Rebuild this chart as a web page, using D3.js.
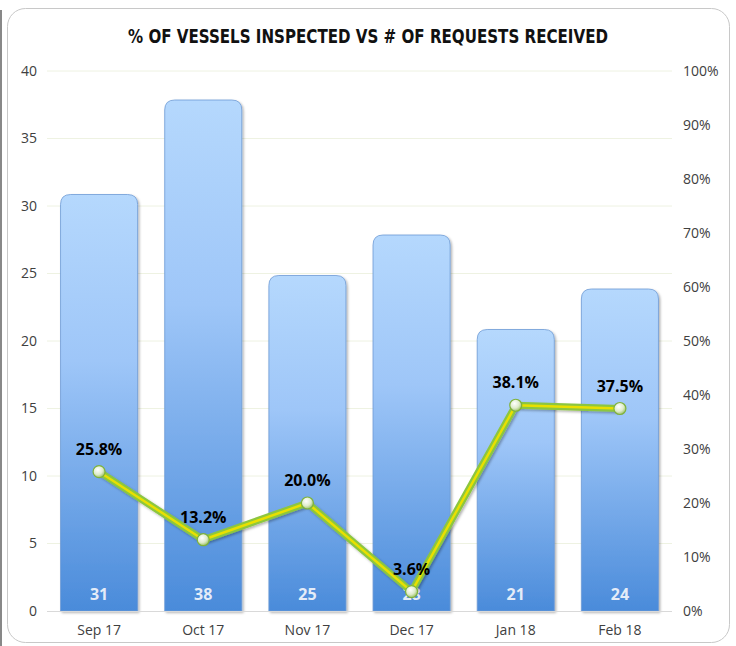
<!DOCTYPE html>
<html>
<head>
<meta charset="utf-8">
<script src="https://cdn.jsdelivr.net/npm/d3@7"></script>
<style>
  body { margin: 0; background: #fff; }
  text { font-family: "Open Sans", "DejaVu Sans", sans-serif; }
</style>
</head>
<body>
<script>
// data
var months = ["Sep 17", "Oct 17", "Nov 17", "Dec 17", "Jan 18", "Feb 18"];
var requests = [31, 38, 25, 28, 21, 24];
var pctInspected = [25.8, 13.2, 20.0, 3.6, 38.1, 37.5];
var leftTicks = [0, 5, 10, 15, 20, 25, 30, 35, 40];
var rightTicks = [0, 10, 20, 30, 40, 50, 60, 70, 80, 90, 100];

var W = 736, H = 646;
var margin = {top: 71, right: 64, bottom: 35, left: 47};

var svg = d3.select("body").append("svg")
    .attr("width", W)
    .attr("height", H);

var defs = svg.append("defs");
var bg = defs.append("linearGradient").attr("id", "barGrad")
    .attr("x1", 0).attr("y1", 0).attr("x2", 0).attr("y2", 1);
bg.append("stop").attr("offset", "0%").attr("stop-color", "#b5d8fd");
bg.append("stop").attr("offset", "40%").attr("stop-color", "#9ec6f8");
bg.append("stop").attr("offset", "100%").attr("stop-color", "#4a8bda");

var mg = defs.append("radialGradient").attr("id", "dotGrad")
    .attr("cx", "40%").attr("cy", "35%").attr("r", "65%");
mg.append("stop").attr("offset", "0%").attr("stop-color", "#ffffff");
mg.append("stop").attr("offset", "60%").attr("stop-color", "#dfeccb");
mg.append("stop").attr("offset", "100%").attr("stop-color", "#9fc36a");

var sh = defs.append("filter").attr("id", "shadow")
    .attr("x", "-10%").attr("y", "-10%").attr("width", "125%").attr("height", "125%");
sh.append("feDropShadow").attr("dx", 1.5).attr("dy", 1.5).attr("stdDeviation", 1.2)
    .attr("flood-color", "#000").attr("flood-opacity", 0.3);

// frame
svg.append("rect")
    .attr("x", 7.5).attr("y", 8.5)
    .attr("width", 722).attr("height", 634)
    .attr("rx", 18)
    .attr("fill", "#fff").attr("stroke", "#c8c8c8").attr("stroke-width", 1);
svg.append("line")
    .attr("x1", 1).attr("x2", 1).attr("y1", 10).attr("y2", 646)
    .attr("stroke", "#888").attr("stroke-width", 2);

// title
svg.append("text")
    .attr("x", 368).attr("y", 43)
    .attr("text-anchor", "middle")
    .attr("font-size", 19).attr("font-weight", "bold")
    .style("font-family", "'Liberation Sans Narrow', 'DejaVu Sans Condensed', sans-serif")
    .attr("textLength", 480).attr("lengthAdjust", "spacingAndGlyphs")
    .attr("fill", "#111")
    .text("% OF VESSELS INSPECTED VS # OF REQUESTS RECEIVED");

var x = d3.scaleBand()
    .domain(months)
    .range([margin.left, W - margin.right])
    .paddingInner(0.26)
    .paddingOuter(0.13);

var y = d3.scaleLinear().domain([0, 40]).range([H - margin.bottom, margin.top]);
var y2 = d3.scaleLinear().domain([0, 100]).range([H - margin.bottom, margin.top]);

// gridlines
svg.append("g").selectAll("line")
    .data(leftTicks.slice(1))
    .join("line")
    .attr("x1", margin.left).attr("x2", W - margin.right)
    .attr("y1", function(d) { return y(d); }).attr("y2", function(d) { return y(d); })
    .attr("stroke", "#eef2e2").attr("stroke-width", 1);

// left axis
var yAxis = svg.append("g")
    .attr("transform", "translate(" + (margin.left - 10) + ",0)")
    .call(d3.axisLeft(y).tickValues(leftTicks).tickSize(0).tickPadding(0));
yAxis.select(".domain").remove();
yAxis.selectAll("text").attr("font-size", 14).attr("fill", "#404040");

// right axis
var yAxis2 = svg.append("g")
    .attr("transform", "translate(" + (W - margin.right + 11) + ",0)")
    .call(d3.axisRight(y2).tickValues(rightTicks).tickSize(0).tickPadding(0)
        .tickFormat(function(d) { return d + "%"; }));
yAxis2.select(".domain").remove();
yAxis2.selectAll("text").attr("font-size", 14).attr("fill", "#404040");

// bars
function topRounded(x0, y0, w, h, r) {
  r = Math.min(r, h / 2, w / 2);
  return "M" + x0 + "," + (y0 + h) +
    "V" + (y0 + r) +
    "Q" + x0 + "," + y0 + " " + (x0 + r) + "," + y0 +
    "H" + (x0 + w - r) +
    "Q" + (x0 + w) + "," + y0 + " " + (x0 + w) + "," + (y0 + r) +
    "V" + (y0 + h) + "Z";
}

svg.append("g").selectAll("path")
    .data(requests)
    .join("path")
    .attr("d", function(d, i) {
      var top = y(d) + 2;
      return topRounded(x(months[i]), top, x.bandwidth(), y(0) - top, 10);
    })
    .attr("fill", "url(#barGrad)")
    .attr("stroke", "#6d9bd6").attr("stroke-width", 0.8)
    .attr("filter", "url(#shadow)");

// x axis line
svg.append("line")
    .attr("x1", margin.left).attr("x2", W - margin.right)
    .attr("y1", y(0) + 0.5).attr("y2", y(0) + 0.5)
    .attr("stroke", "#d9d9d9").attr("stroke-width", 1);

var xAxis = svg.append("g")
    .attr("transform", "translate(0," + y(0) + ")")
    .call(d3.axisBottom(x).tickSize(0).tickPadding(14));
xAxis.select(".domain").remove();
xAxis.selectAll("text").attr("font-size", 14).attr("fill", "#404040");

// bar value labels
svg.append("g").selectAll("text")
    .data(requests)
    .join("text")
    .attr("x", function(d, i) { return x(months[i]) + x.bandwidth() / 2; })
    .attr("y", y(0) - 11)
    .attr("text-anchor", "middle")
    .attr("font-size", 16).attr("font-weight", "bold")
    .attr("fill", "#e4ecf8")
    .text(function(d) { return d; });

// line
var line = d3.line()
    .x(function(d, i) { return x(months[i]) + x.bandwidth() / 2; })
    .y(function(d) { return y2(d); });

svg.append("path")
    .datum(pctInspected)
    .attr("d", line)
    .attr("fill", "none")
    .attr("stroke", "#8cc63f").attr("stroke-width", 7)
    .attr("stroke-linejoin", "round")
    .attr("filter", "url(#shadow)");
svg.append("path")
    .datum(pctInspected)
    .attr("d", line)
    .attr("fill", "none")
    .attr("stroke", "#e8e000").attr("stroke-width", 2.5)
    .attr("stroke-linejoin", "round");

svg.append("g").selectAll("circle")
    .data(pctInspected)
    .join("circle")
    .attr("cx", function(d, i) { return x(months[i]) + x.bandwidth() / 2; })
    .attr("cy", function(d) { return y2(d); })
    .attr("r", 6)
    .attr("fill", "url(#dotGrad)")
    .attr("stroke", "#7fb23a").attr("stroke-width", 1.2);

// percentage labels
svg.append("g").selectAll("text")
    .data(pctInspected)
    .join("text")
    .attr("x", function(d, i) { return x(months[i]) + x.bandwidth() / 2; })
    .attr("y", function(d) { return y2(d) - 17; })
    .attr("text-anchor", "middle")
    .attr("font-size", 16).attr("font-weight", "bold")
    .attr("fill", "#000")
    .text(function(d) { return d.toFixed(1) + "%"; });
</script>
</body>
</html>
